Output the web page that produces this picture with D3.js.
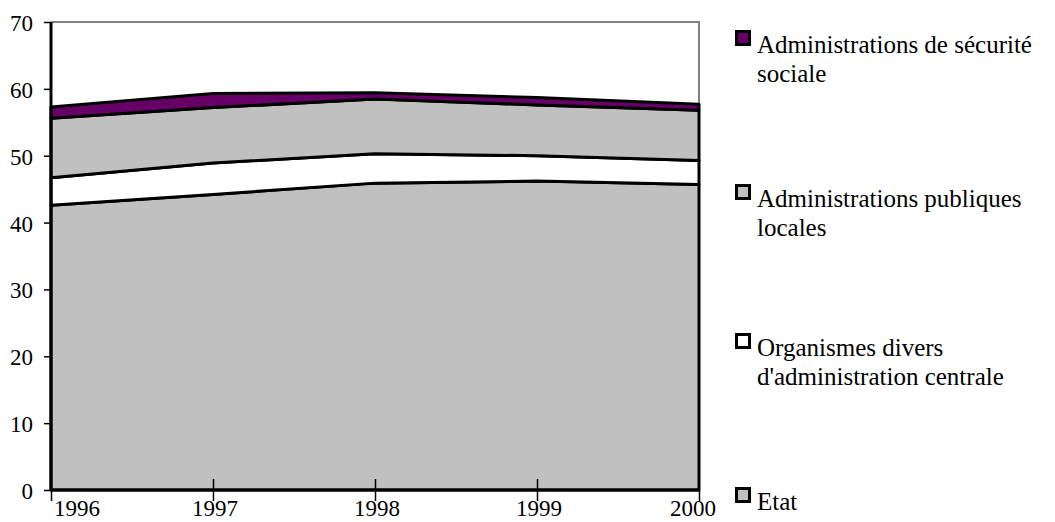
<!DOCTYPE html>
<html><head><meta charset="utf-8">
<script src="https://cdn.jsdelivr.net/npm/d3@7"></script>
</head>
<body style="margin:0">
<svg id="c" width="1055" height="522"></svg>
<script>
const years = ["1996","1997","1998","1999","2000"];
const etat = [42.6, 44.2, 45.9, 46.2, 45.7];
const odac = [4.1, 4.7, 4.4, 3.8, 3.6];
const apul = [8.9, 8.3, 8.2, 7.6, 7.5];
const asso = [1.7, 2.1, 0.9, 1.1, 0.9];
const yTicks = [0,10,20,30,40,50,60,70];
const seriesKeys = ["etat","odac","apul","asso"];
const colors = ["#C0C0C0","#FFFFFF","#C0C0C0","#660066"];
const legendLines = [["Administrations de sécurité","sociale"],["Administrations publiques","locales"],["Organismes divers","d'administration centrale"],["Etat"]];
const legendColors = ["#660066","#C0C0C0","#FFFFFF","#C0C0C0"];

const rows = years.map((y,i)=>({year:y, etat:etat[i], odac:odac[i], apul:apul[i], asso:asso[i]}));
const svg = d3.select("#c");
const L=51, R=699, T=22, B=490;
const x = d3.scalePoint().domain(years).range([L,R]);
const y = d3.scaleLinear().domain([0,70]).range([B,T]);

svg.append("path").attr("d",`M${L},${T}H${R}V${B}`).attr("fill","none").attr("stroke","#808080").attr("stroke-width",2);

const stack = d3.stack().keys(seriesKeys)(rows);
const area = d3.area().x(d=>x(d.data.year)).y0(d=>y(d[0])).y1(d=>y(d[1]));
svg.selectAll("path.a").data(stack).join("path").attr("class","a")
  .attr("d",area).attr("fill",(d,i)=>colors[i]).attr("stroke","#000").attr("stroke-width",3).attr("stroke-linejoin","round");

const ya = svg.append("g").attr("transform",`translate(${L},0)`)
  .call(d3.axisLeft(y).tickValues(yTicks).tickSize(7).tickPadding(11).tickFormat(d3.format("d")));
ya.select(".domain").attr("stroke","#000").attr("stroke-width",3).attr("d",`M0,${T}V${B}`);
ya.selectAll(".tick line").attr("stroke","#000").attr("stroke-width",1.5);
ya.selectAll(".tick text").remove();
yTicks.forEach(v=>svg.append("text").attr("x",L-18).attr("y",y(v)+9).attr("text-anchor","end")
  .attr("font-size",23).attr("font-family","'Times New Roman'").text(v));

const xa = svg.append("g").attr("transform",`translate(0,${B})`).call(d3.axisBottom(x).tickSize(10).tickPadding(0));
xa.select(".domain").attr("stroke","#000").attr("stroke-width",3).attr("d",`M${L},0H${R}`);
xa.selectAll(".tick line").attr("stroke","#000").attr("stroke-width",1.5).attr("y1",(d,i)=>i===0||i===years.length-1?0:-11).attr("y2",11);
xa.selectAll(".tick text").remove();
years.forEach((yr,i)=>svg.append("text").attr("x",x(yr)+(i===0?3:(i===years.length-1?-6:2))).attr("y",B+26)
  .attr("text-anchor",i===0?"start":"middle").attr("font-size",23).attr("font-family","'Times New Roman'").text(yr));

const baselines = [53, 207, 356, 510];
legendLines.forEach((lines,i)=>{
  const b = baselines[i];
  svg.append("rect").attr("x",736.5).attr("y",b-21.5).attr("width",13).attr("height",13)
    .attr("fill",legendColors[i]).attr("stroke","#000").attr("stroke-width",3);
  lines.forEach((ln,j)=>svg.append("text").attr("x",757).attr("y",b+j*29).attr("font-size",25).attr("font-family","'Times New Roman'").text(ln));
});
</script></body></html>
